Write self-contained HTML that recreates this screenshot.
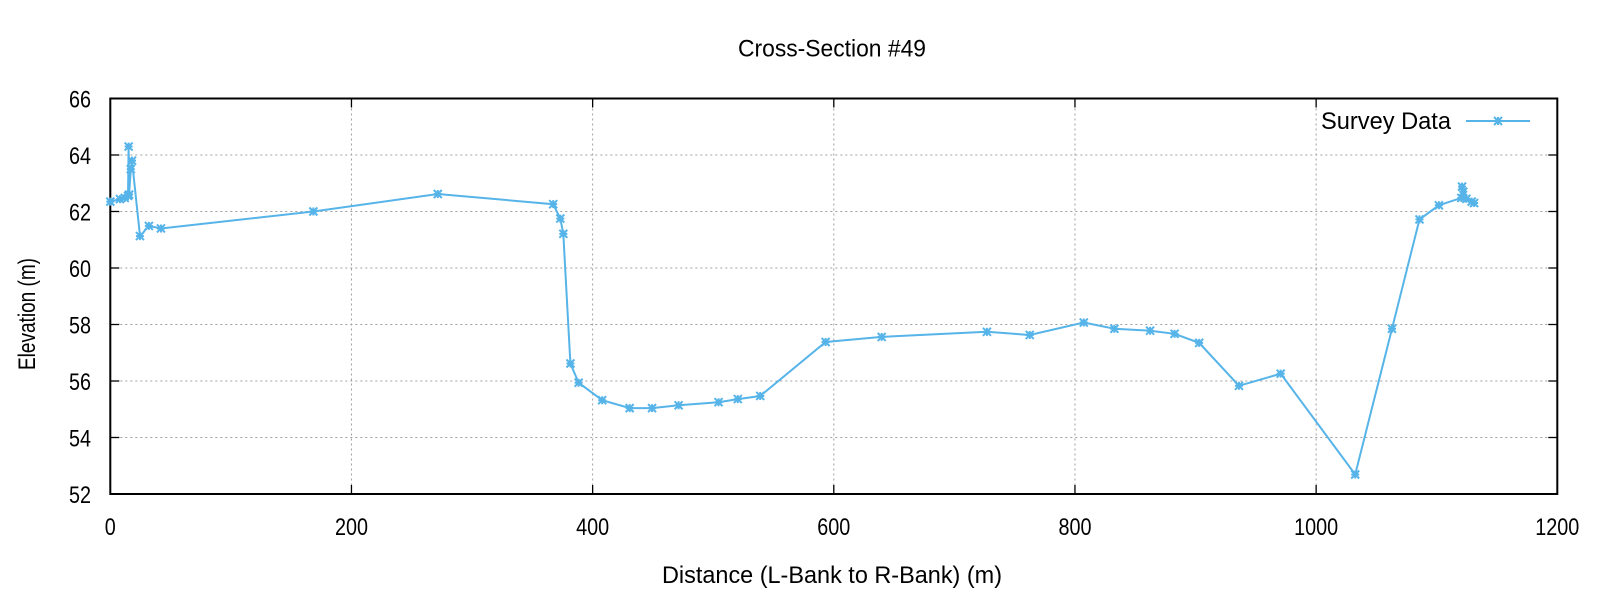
<!DOCTYPE html>
<html><head><meta charset="utf-8"><style>html,body{margin:0;padding:0;background:#fff}svg{display:block}</style></head>
<body>
<svg id="s" width="1600" height="600" xmlns="http://www.w3.org/2000/svg" font-family="Liberation Sans, sans-serif">
<rect width="1600" height="600" fill="#fff"/>
<g id="grid" stroke="#a0a0a0" stroke-width="1" stroke-dasharray="2,3"></g>
<g id="ticks" stroke="#000" stroke-width="1.3"></g>
<g id="labels" font-size="24" fill="#000"></g>
<rect x="110.3" y="98.5" width="1447" height="395.5" fill="none" stroke="#000" stroke-width="2"/>
<text x="832" y="56.5" font-size="24" text-anchor="middle" textLength="188" lengthAdjust="spacingAndGlyphs">Cross-Section #49</text>
<text x="832" y="583" font-size="24" text-anchor="middle" textLength="340" lengthAdjust="spacingAndGlyphs">Distance (L-Bank to R-Bank) (m)</text>
<text transform="translate(35,314) rotate(-90)" font-size="24" text-anchor="middle" textLength="112" lengthAdjust="spacingAndGlyphs">Elevation (m)</text>
<text x="1451" y="129" font-size="24" text-anchor="end" textLength="130" lengthAdjust="spacingAndGlyphs">Survey Data</text>
<g id="data"></g>
</svg>
<script>
var X0=110.3,X1=1557.3,Y0=494,Y1=98.5;
function px(v){return X0+v*(X1-X0)/1200}
function py(v){return Y0-(v-52)*(Y0-Y1)/14}
var ns="http://www.w3.org/2000/svg";
function el(p,t,a,txt){var e=document.createElementNS(ns,t);for(var k in a)e.setAttribute(k,a[k]);if(txt)e.textContent=txt;document.getElementById(p).appendChild(e);return e}
for(var x=200;x<1200;x+=200){var xx=px(x);el("grid","line",{x1:xx,x2:xx,y1:Y1,y2:Y0});}
for(var y=54;y<66;y+=2){var yy=py(y);el("grid","line",{x1:X0,x2:X1,y1:yy,y2:yy});}
for(var x=0;x<=1200;x+=200){var xx=px(x);el("ticks","line",{x1:xx,x2:xx,y1:Y0,y2:Y0-9});el("ticks","line",{x1:xx,x2:xx,y1:Y1,y2:Y1+9});
 var s=String(x);el("labels","text",{x:xx,y:535,"text-anchor":"middle",textLength:s.length*11,lengthAdjust:"spacingAndGlyphs"},s);}
for(var y=52;y<=66;y+=2){var yy=py(y);el("ticks","line",{x1:X0,x2:X0+9,y1:yy,y2:yy});el("ticks","line",{x1:X1,x2:X1-9,y1:yy,y2:yy});
 el("labels","text",{x:91,y:yy+9,"text-anchor":"end",textLength:22,lengthAdjust:"spacingAndGlyphs"},String(y));}
var d=[[0,62.35],[8,62.44],[12,62.48],[14.7,62.55],[15.2,64.3],[15.6,62.6],[17,63.5],[18,63.8],[24.6,61.13],[32,61.49],[42,61.4],[168.4,62.0],[271.6,62.62],[367.3,62.26],[373.2,61.75],[375.7,61.21],[381.6,56.62],[388.4,55.94],[407.9,55.32],[430.7,55.04],[449.3,55.04],[471.3,55.14],[504.4,55.25],[520.4,55.36],[539,55.47],[593.2,57.38],[639.7,57.56],[727,57.74],[762.5,57.63],[807.3,58.07],[832.7,57.85],[862.3,57.78],[882.6,57.67],[903,57.35],[936,55.83],[970.6,56.26],[1032.4,52.69],[1062.9,57.85],[1085.7,61.72],[1101.8,62.22],[1120.4,62.48],[1121,62.88],[1122,62.7],[1124.6,62.45],[1129,62.35],[1131,62.3]];
var pts=d.map(function(p){return px(p[0]).toFixed(1)+","+py(p[1]).toFixed(1)}).join(" ");
var C="#56b4e9";
el("data","polyline",{points:pts,fill:"none",stroke:C,"stroke-width":2});
function star(x,y){var r=4;el("data","path",{d:"M"+(x-r)+" "+y+"h"+2*r+"M"+x+" "+(y-r)+"v"+2*r+"M"+(x-r)+" "+(y-r)+"l"+2*r+" "+2*r+"M"+(x-r)+" "+(y+r)+"l"+2*r+" "+(-2*r),stroke:C,"stroke-width":2,fill:"none"})}
d.forEach(function(p){star(px(p[0]),py(p[1]))});
el("data","line",{x1:1466,x2:1530,y1:121,y2:121,stroke:C,"stroke-width":2});
star(1498,121);
</script>
</body></html>
